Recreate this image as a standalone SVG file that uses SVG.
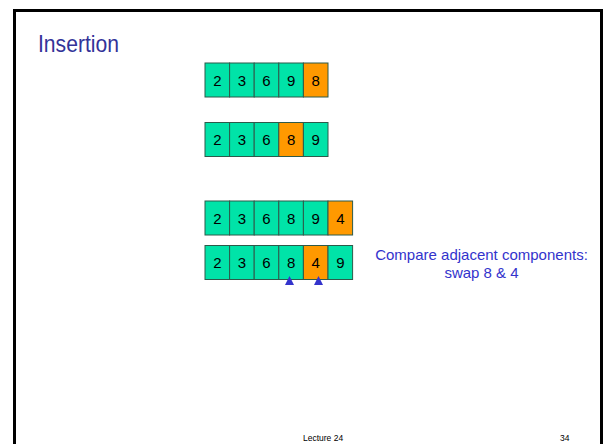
<svg xmlns="http://www.w3.org/2000/svg" width="603" height="444" viewBox="0 0 603 444">
<style>
.c{stroke:#2d5a4a;stroke-width:1}
.g{fill:#00E3A8}
.o{fill:#FF9900}
.d{font-family:"Liberation Sans",Arial,sans-serif;font-size:15px;fill:#000;text-anchor:middle}
.t{font-family:"Liberation Sans",Arial,sans-serif;fill:#333399}
.cap{font-family:"Liberation Sans",Arial,sans-serif;font-size:15px;fill:#3333CC;text-anchor:middle}
.f{font-family:"Liberation Sans",Arial,sans-serif;font-size:8.5px;fill:#000}
.tri{fill:#3333CC}
</style>
<rect width="603" height="444" fill="#fff"/>
<rect x="14.5" y="10.5" width="587" height="460" fill="none" stroke="#000" stroke-width="3"/>
<text class="t" x="38" y="52" font-size="24" textLength="81" lengthAdjust="spacingAndGlyphs">Insertion</text>
<g id="row1">
<rect class="c g" x="205" y="63" width="24.6" height="34"/><text class="d" x="217.3" y="85.5">2</text>
<rect class="c g" x="229.6" y="63" width="24.6" height="34"/><text class="d" x="241.9" y="85.5">3</text>
<rect class="c g" x="254.2" y="63" width="24.6" height="34"/><text class="d" x="266.5" y="85.5">6</text>
<rect class="c g" x="278.8" y="63" width="24.6" height="34"/><text class="d" x="291.1" y="85.5">9</text>
<rect class="c o" x="303.4" y="63" width="24.6" height="34"/><text class="d" x="315.7" y="85.5">8</text>
</g>
<g id="row2">
<rect class="c g" x="205" y="122.5" width="24.6" height="34"/><text class="d" x="217.3" y="145">2</text>
<rect class="c g" x="229.6" y="122.5" width="24.6" height="34"/><text class="d" x="241.9" y="145">3</text>
<rect class="c g" x="254.2" y="122.5" width="24.6" height="34"/><text class="d" x="266.5" y="145">6</text>
<rect class="c o" x="278.8" y="122.5" width="24.6" height="34"/><text class="d" x="291.1" y="145">8</text>
<rect class="c g" x="303.4" y="122.5" width="24.6" height="34"/><text class="d" x="315.7" y="145">9</text>
</g>
<g id="row3">
<rect class="c g" x="205" y="201" width="24.6" height="34"/><text class="d" x="217.3" y="223.5">2</text>
<rect class="c g" x="229.6" y="201" width="24.6" height="34"/><text class="d" x="241.9" y="223.5">3</text>
<rect class="c g" x="254.2" y="201" width="24.6" height="34"/><text class="d" x="266.5" y="223.5">6</text>
<rect class="c g" x="278.8" y="201" width="24.6" height="34"/><text class="d" x="291.1" y="223.5">8</text>
<rect class="c g" x="303.4" y="201" width="24.6" height="34"/><text class="d" x="315.7" y="223.5">9</text>
<rect class="c o" x="328" y="201" width="24.6" height="34"/><text class="d" x="340.3" y="223.5">4</text>
</g>
<g id="row4">
<rect class="c g" x="205" y="245.5" width="24.6" height="34"/><text class="d" x="217.3" y="268">2</text>
<rect class="c g" x="229.6" y="245.5" width="24.6" height="34"/><text class="d" x="241.9" y="268">3</text>
<rect class="c g" x="254.2" y="245.5" width="24.6" height="34"/><text class="d" x="266.5" y="268">6</text>
<rect class="c g" x="278.8" y="245.5" width="24.6" height="34"/><text class="d" x="291.1" y="268">8</text>
<rect class="c o" x="303.4" y="245.5" width="24.6" height="34"/><text class="d" x="315.7" y="268">4</text>
<rect class="c g" x="328" y="245.5" width="24.6" height="34"/><text class="d" x="340.3" y="268">9</text>
</g>
<g id="pointers">
<polygon class="tri" points="285,285 289.5,276 294,285"/>
<polygon class="tri" points="314,285 318.5,276 323,285"/>
</g>
<g id="caption">
<text class="cap" x="481.5" y="260">Compare adjacent components:</text>
<text class="cap" x="481.5" y="278">swap 8 &amp; 4</text>
</g>
<text class="f" x="303" y="441">Lecture 24</text>
<text class="f" x="560" y="441">34</text>
</svg>
